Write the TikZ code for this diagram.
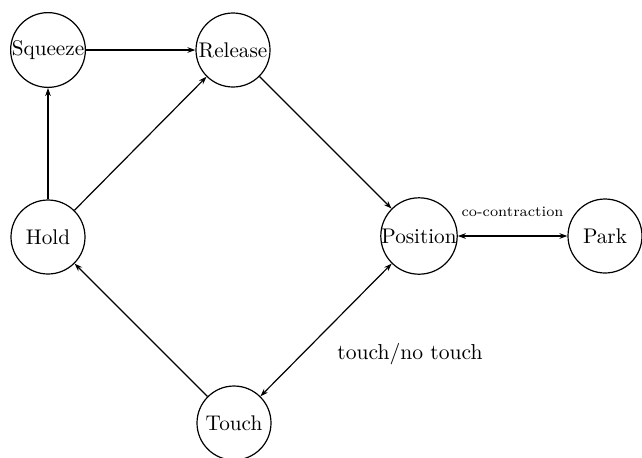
\documentclass[tikz,border=0pt]{standalone}
\usetikzlibrary{arrows.meta}
\begin{document}
\begin{tikzpicture}[x=0.5pt,y=-0.5pt,
  state/.style={circle,draw,line width=0.6pt,inner sep=0pt,minimum size=37pt,font=\fontsize{10.6}{12}\selectfont},
  conn/.style={line width=0.6pt,-{Stealth[length=4pt,width=2.8pt]}},
  bconn/.style={line width=0.6pt,{Stealth[length=4pt,width=2.8pt]}-{Stealth[length=4pt,width=2.8pt]}}]
\useasboundingbox (0,0) rectangle (642,457);
\node[state] (sq) at (48,50) {Squeeze};
\node[state] (re) at (233,50) {Release};
\node[state] (ho) at (48,237) {Hold};
\node[state] (po) at (419,236) {Position};
\node[state] (pa) at (605,236) {Park};
\node[state] (to) at (234,423) {Touch};
\draw[conn] (sq) -- (re);
\draw[conn] (ho) -- (sq);
\draw[conn] (ho) -- (re);
\draw[conn] (re) -- (po);
\draw[bconn] (po) -- node[above=6pt,font=\fontsize{7.2}{9}\selectfont] {co-contraction} (pa);
\draw[conn] (to) -- (ho);
\draw[bconn] (po) -- (to);
\node (lbl) at (410,354) [font=\fontsize{10.8}{13}\selectfont] {touch/no touch};
\end{tikzpicture}
\end{document}
